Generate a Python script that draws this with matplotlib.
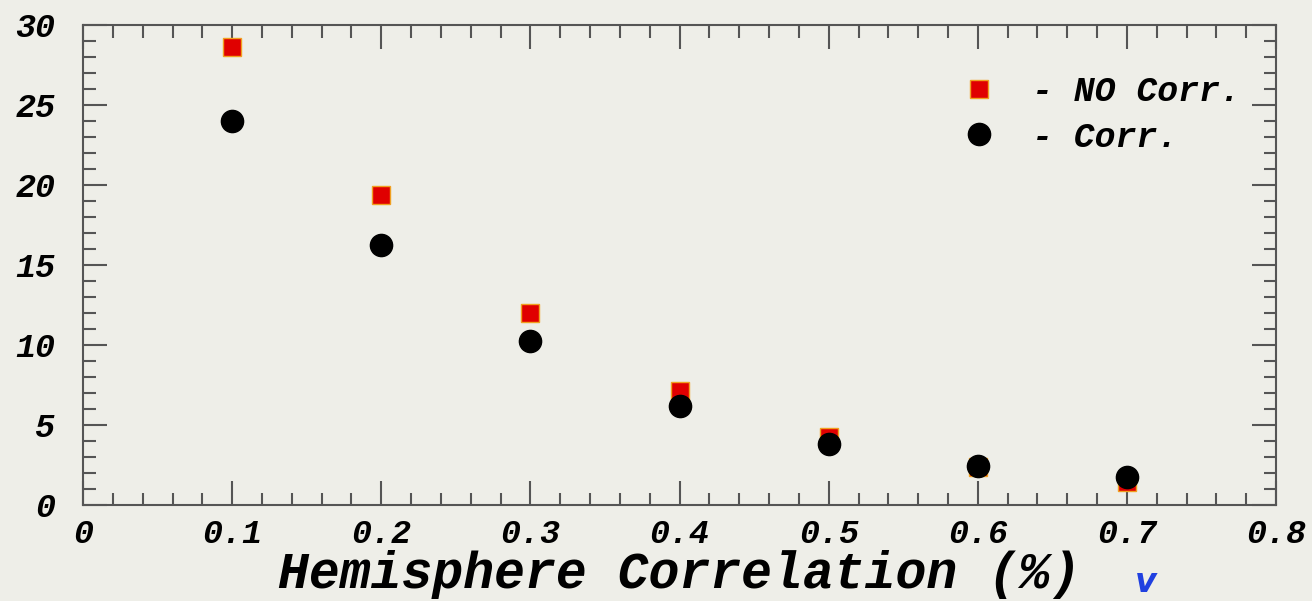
import matplotlib
matplotlib.use("Agg")
import matplotlib.pyplot as plt
from matplotlib.ticker import MultipleLocator

# values
corr_x = [0.1, 0.2, 0.3, 0.4, 0.5, 0.6, 0.7]
no_corr = [28.6, 19.4, 12.0, 7.1, 4.25, 2.4, 1.45]
corr = [24.0, 16.25, 10.25, 6.2, 3.8, 2.45, 1.75]
x_ticks = [0, 0.1, 0.2, 0.3, 0.4, 0.5, 0.6, 0.7, 0.8]
x_labels = ["0", "0.1", "0.2", "0.3", "0.4", "0.5", "0.6", "0.7", "0.8"]
y_ticks = [0, 5, 10, 15, 20, 25, 30]

bg = "#eeeee8"
font = dict(family="Liberation Mono", weight="bold", style="italic")

fig = plt.figure(figsize=(13.12, 6.01), dpi=100, facecolor=bg)
ax = fig.add_axes([0.0633, 0.1597, 0.9093, 0.7987], facecolor=bg)

ax.plot(corr_x, no_corr, "s", ms=13, mfc="#e00000", mec="#f0a020", mew=1,
        label="- NO Corr.")
ax.plot(corr_x, corr, "o", ms=16, color="black", label="- Corr.")

ax.set_xlim(0, 0.8)
ax.set_ylim(0, 30)
ax.set_xticks(x_ticks)
ax.set_xticklabels(x_labels)
ax.set_yticks(y_ticks)
ax.xaxis.set_minor_locator(MultipleLocator(0.02))
ax.yaxis.set_minor_locator(MultipleLocator(1))
ax.tick_params(which="both", direction="in", top=True, right=True,
               color="#555555", width=1.5)
ax.tick_params(which="major", length=17)
ax.tick_params(which="minor", length=9)
ax.tick_params(axis="x", which="major", pad=10)
ax.tick_params(axis="y", which="major", pad=20)
for lab in ax.get_xticklabels() + ax.get_yticklabels():
    lab.set_fontfamily("Liberation Mono")
    lab.set_fontweight("bold")
    lab.set_fontstyle("italic")
    lab.set_fontsize(24)
for sp in ax.spines.values():
    sp.set_color("#555555")
    sp.set_linewidth(1.5)

leg = ax.legend(loc="upper right", bbox_to_anchor=(0.997, 0.96), frameon=False,
                prop=dict(size=25, **font), handletextpad=0.95, labelspacing=0.35,
                handlelength=1.2)

fig.text(0.518, 0.004, "Hemisphere Correlation (%)", ha="center", va="bottom",
         fontsize=37, **font)
fig.text(0.873, 0.004, "v", color="#2040e0", fontsize=24, ha="center",
         va="bottom", style="italic", weight="bold")

fig.savefig("out.png", dpi=100, facecolor=bg)
